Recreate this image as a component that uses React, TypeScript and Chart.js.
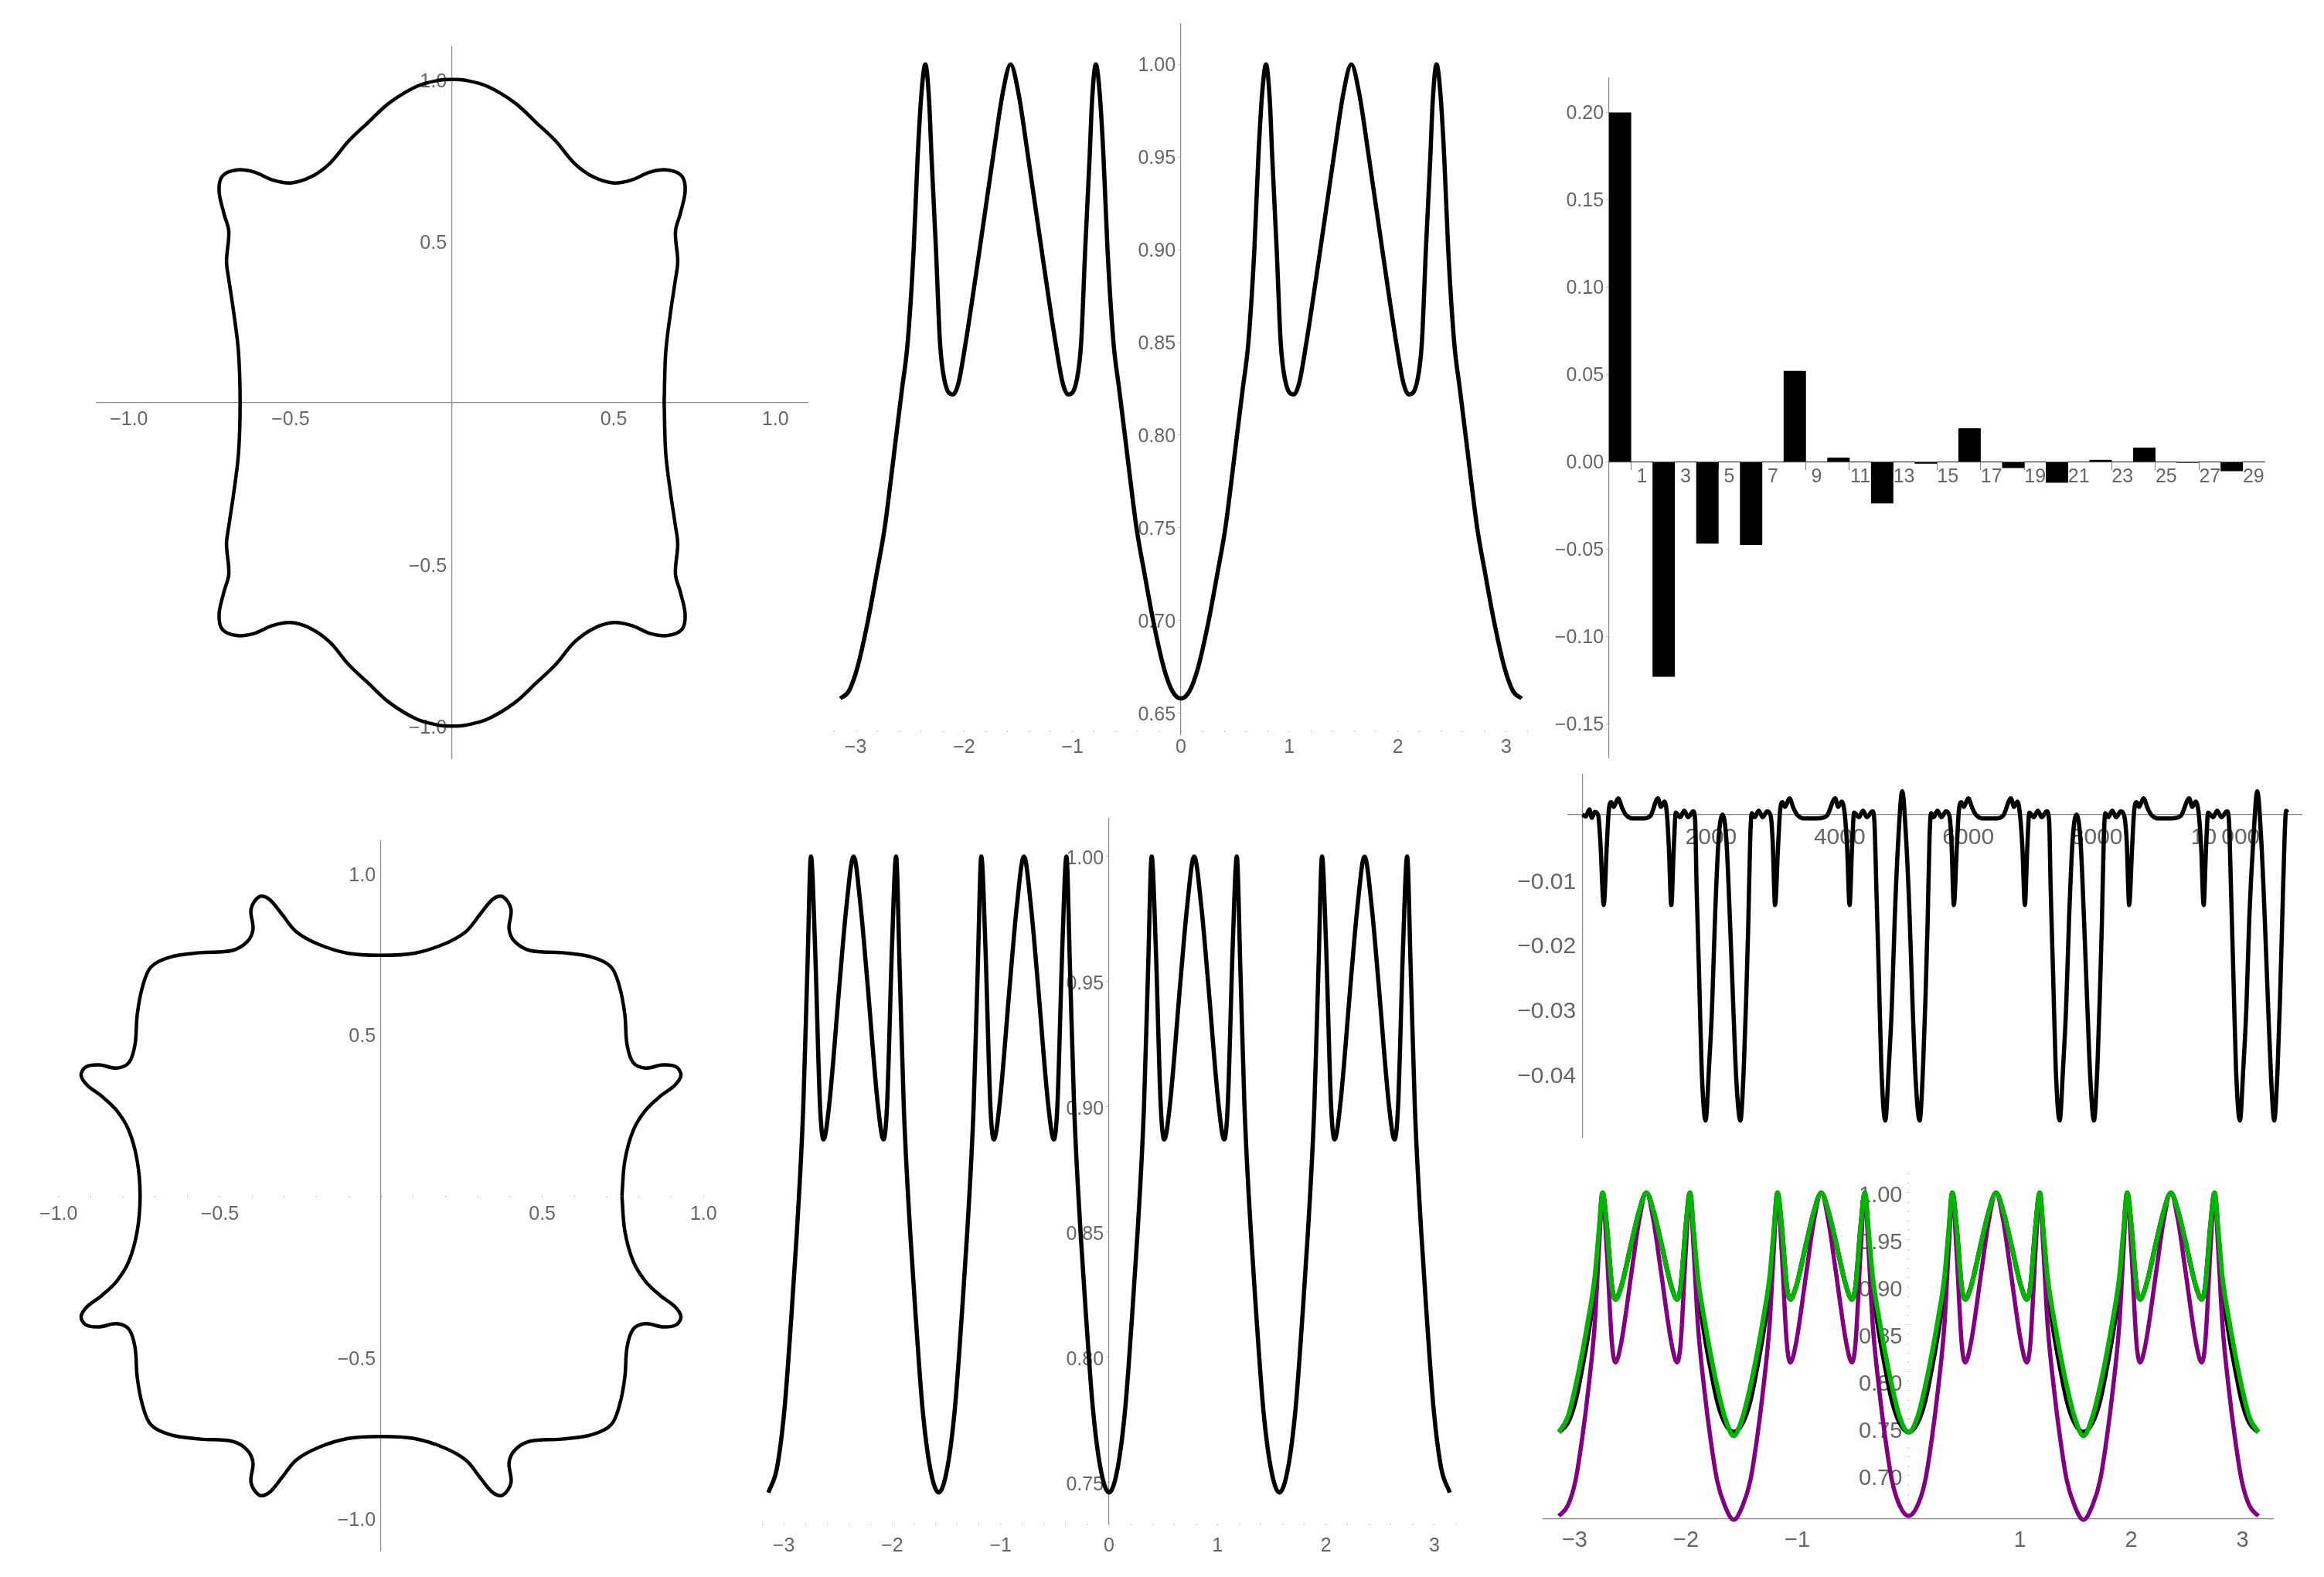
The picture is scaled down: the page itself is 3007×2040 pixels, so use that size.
import React, { useEffect, useRef } from "react";
import { Chart, registerables } from "chart.js";

Chart.register(...registerables);

// top left outline
const topOutlineX = [
  0.656, 0.661, 0.676, 0.69, 0.698, 0.691, 0.706, 0.721, 0.711, 0.668, 0.614, 0.555, 0.5, 0.438, 0.379, 0.32, 0.262, 0.195, 0.111, 0.044, 0,
  -0.044, -0.111, -0.195, -0.262, -0.32, -0.379, -0.438, -0.5, -0.555, -0.614, -0.668, -0.711, -0.721, -0.706, -0.691, -0.698, -0.69, -0.676, -0.661, -0.656,
  -0.661, -0.676, -0.69, -0.698, -0.691, -0.706, -0.721, -0.711, -0.668, -0.614, -0.555, -0.5, -0.438, -0.379, -0.32, -0.262, -0.195, -0.111, -0.044, 0,
  0.044, 0.111, 0.195, 0.262, 0.32, 0.379, 0.438, 0.5, 0.555, 0.614, 0.668, 0.711, 0.721, 0.706, 0.691, 0.698, 0.69, 0.676, 0.661, 0.656,
];
const topOutlineY = [
  0, 0.157, 0.281, 0.375, 0.437, 0.53, 0.585, 0.655, 0.701, 0.72, 0.714, 0.689, 0.68, 0.698, 0.74, 0.81, 0.865, 0.927, 0.978, 0.997, 1,
  0.997, 0.978, 0.927, 0.865, 0.81, 0.74, 0.698, 0.68, 0.689, 0.714, 0.72, 0.701, 0.655, 0.585, 0.53, 0.437, 0.375, 0.281, 0.157, 0,
  -0.157, -0.281, -0.375, -0.437, -0.53, -0.585, -0.655, -0.701, -0.72, -0.714, -0.689, -0.68, -0.698, -0.74, -0.81, -0.865, -0.927, -0.978, -0.997, -1,
  -0.997, -0.978, -0.927, -0.865, -0.81, -0.74, -0.698, -0.68, -0.689, -0.714, -0.72, -0.701, -0.655, -0.585, -0.53, -0.437, -0.375, -0.281, -0.157, 0,
];

// top middle curve
const topTheta = [
  -3.142, -3.062, -2.982, -2.886, -2.807, -2.732, -2.677, -2.625, -2.572, -2.52, -2.465, -2.428, -2.392, -2.357, -2.322, -2.3, -2.259, -2.222, -2.182, -2.102, -2.052, -1.985, -1.857, -1.733, -1.642, -1.571,
  -1.5, -1.409, -1.285, -1.157, -1.09, -1.04, -0.96, -0.92, -0.883, -0.842, -0.82, -0.785, -0.75, -0.714, -0.677, -0.622, -0.57, -0.517, -0.465, -0.41, -0.335, -0.256, -0.16, -0.08, 0,
  0.08, 0.16, 0.256, 0.335, 0.41, 0.465, 0.517, 0.57, 0.622, 0.677, 0.714, 0.75, 0.785, 0.82, 0.842, 0.883, 0.92, 0.96, 1.04, 1.09, 1.157, 1.285, 1.409, 1.5, 1.571,
  1.642, 1.733, 1.857, 1.985, 2.052, 2.102, 2.182, 2.222, 2.259, 2.3, 2.322, 2.357, 2.392, 2.428, 2.465, 2.52, 2.572, 2.625, 2.677, 2.732, 2.807, 2.886, 2.982, 3.062, 3.142,
];
const topRadius = [
  0.658, 0.662, 0.675, 0.7, 0.725, 0.75, 0.775, 0.8, 0.825, 0.85, 0.9, 0.95, 0.985, 1, 0.98, 0.95, 0.9, 0.85, 0.83, 0.822, 0.828, 0.85, 0.9, 0.95, 0.985, 1,
  0.985, 0.95, 0.9, 0.85, 0.828, 0.822, 0.83, 0.85, 0.9, 0.95, 0.98, 1, 0.985, 0.95, 0.9, 0.85, 0.825, 0.8, 0.775, 0.75, 0.725, 0.7, 0.675, 0.662, 0.658,
  0.662, 0.675, 0.7, 0.725, 0.75, 0.775, 0.8, 0.825, 0.85, 0.9, 0.95, 0.985, 1, 0.98, 0.95, 0.9, 0.85, 0.83, 0.822, 0.828, 0.85, 0.9, 0.95, 0.985, 1,
  0.985, 0.95, 0.9, 0.85, 0.828, 0.822, 0.83, 0.85, 0.9, 0.95, 0.98, 1, 0.985, 0.95, 0.9, 0.85, 0.825, 0.8, 0.775, 0.75, 0.725, 0.7, 0.675, 0.662, 0.658,
];

// top right bars, the odd slots are empty and only carry the labels
const coeffSlots = ["0", "1", "2", "3", "4", "5", "6", "7", "8", "9", "10", "11", "12", "13", "14", "15", "16", "17", "18", "19", "20", "21", "22", "23", "24", "25", "26", "27", "28", "29"];
const coeffValues = [
  0.2, 0, -0.1228, 0, -0.0466, 0, -0.0474, 0, 0.052, 0, 0.0024, 0, -0.0236, 0, -0.0008, 0, 0.0192, 0, -0.0033, 0, -0.0117, 0, 0.0011, 0, 0.0081, 0, -0.0003, 0, -0.0051, 0,
];

// bottom left outline
const bottomOutlineX = [
  0.747, 0.756, 0.782, 0.82, 0.866, 0.911, 0.93, 0.915, 0.873, 0.82, 0.782, 0.763, 0.756, 0.74, 0.713, 0.652, 0.56, 0.461, 0.415, 0.397, 0.403, 0.377, 0.347, 0.308, 0.263, 0.194, 0.102, 0,
  -0.102, -0.194, -0.263, -0.308, -0.347, -0.377, -0.403, -0.397, -0.415, -0.461, -0.56, -0.652, -0.713, -0.74, -0.756, -0.763, -0.782, -0.82, -0.873, -0.915, -0.93, -0.911, -0.866, -0.82, -0.782, -0.756, -0.747,
  -0.756, -0.782, -0.82, -0.866, -0.911, -0.93, -0.915, -0.873, -0.82, -0.782, -0.763, -0.756, -0.74, -0.713, -0.652, -0.56, -0.461, -0.415, -0.397, -0.403, -0.377, -0.347, -0.308, -0.263, -0.194, -0.102, 0,
  0.102, 0.194, 0.263, 0.308, 0.347, 0.377, 0.403, 0.397, 0.415, 0.461, 0.56, 0.652, 0.713, 0.74, 0.756, 0.763, 0.782, 0.82, 0.873, 0.915, 0.93, 0.911, 0.866, 0.82, 0.782, 0.756, 0.747,
];
const bottomOutlineY = [
  0, 0.109, 0.203, 0.265, 0.309, 0.343, 0.374, 0.4, 0.406, 0.396, 0.413, 0.468, 0.562, 0.647, 0.71, 0.741, 0.754, 0.761, 0.788, 0.827, 0.889, 0.928, 0.92, 0.874, 0.819, 0.78, 0.752, 0.746,
  0.752, 0.78, 0.819, 0.874, 0.92, 0.928, 0.889, 0.827, 0.788, 0.761, 0.754, 0.741, 0.71, 0.647, 0.562, 0.468, 0.413, 0.396, 0.406, 0.4, 0.374, 0.343, 0.309, 0.265, 0.203, 0.109, 0,
  -0.109, -0.203, -0.265, -0.309, -0.343, -0.374, -0.4, -0.406, -0.396, -0.413, -0.468, -0.562, -0.647, -0.71, -0.741, -0.754, -0.761, -0.788, -0.827, -0.889, -0.928, -0.92, -0.874, -0.819, -0.78, -0.752, -0.746,
  -0.752, -0.78, -0.819, -0.874, -0.92, -0.928, -0.889, -0.827, -0.788, -0.761, -0.754, -0.741, -0.71, -0.647, -0.562, -0.468, -0.413, -0.396, -0.406, -0.4, -0.374, -0.343, -0.309, -0.265, -0.203, -0.109, 0,
];

// bottom middle and bottom right curves share the same theta positions
const bottomTheta = [
  -3.142, -3.062, -2.992, -2.932, -2.879, -2.82, -2.782, -2.749, -2.712, -2.665, -2.633, -2.583, -2.484, -2.422, -2.356, -2.291, -2.229, -2.13, -2.08, -2.048, -2.001, -1.964, -1.931, -1.893, -1.834, -1.781, -1.721, -1.651, -1.571,
  -1.491, -1.421, -1.361, -1.308, -1.249, -1.211, -1.178, -1.141, -1.094, -1.062, -1.012, -0.913, -0.851, -0.785, -0.72, -0.658, -0.559, -0.509, -0.477, -0.43, -0.393, -0.36, -0.322, -0.263, -0.21, -0.15, -0.08, 0,
  0.08, 0.15, 0.21, 0.263, 0.322, 0.36, 0.393, 0.43, 0.477, 0.509, 0.559, 0.658, 0.72, 0.785, 0.851, 0.913, 1.012, 1.062, 1.094, 1.141, 1.178, 1.211, 1.249, 1.308, 1.361, 1.421, 1.491, 1.571,
  1.651, 1.721, 1.781, 1.834, 1.893, 1.931, 1.964, 2.001, 2.048, 2.08, 2.13, 2.229, 2.291, 2.356, 2.422, 2.484, 2.583, 2.633, 2.665, 2.712, 2.749, 2.782, 2.82, 2.879, 2.932, 2.992, 3.062, 3.142,
];
const bottomRadius = [
  0.746, 0.756, 0.78, 0.815, 0.85, 0.9, 0.955, 1, 0.965, 0.9, 0.887, 0.9, 0.95, 0.98, 1, 0.98, 0.95, 0.9, 0.887, 0.9, 0.965, 1, 0.955, 0.9, 0.85, 0.815, 0.78, 0.756, 0.746,
  0.756, 0.78, 0.815, 0.85, 0.9, 0.955, 1, 0.965, 0.9, 0.887, 0.9, 0.95, 0.98, 1, 0.98, 0.95, 0.9, 0.887, 0.9, 0.965, 1, 0.955, 0.9, 0.85, 0.815, 0.78, 0.756, 0.746,
  0.756, 0.78, 0.815, 0.85, 0.9, 0.955, 1, 0.965, 0.9, 0.887, 0.9, 0.95, 0.98, 1, 0.98, 0.95, 0.9, 0.887, 0.9, 0.965, 1, 0.955, 0.9, 0.85, 0.815, 0.78, 0.756, 0.746,
  0.756, 0.78, 0.815, 0.85, 0.9, 0.955, 1, 0.965, 0.9, 0.887, 0.9, 0.95, 0.98, 1, 0.98, 0.95, 0.9, 0.887, 0.9, 0.965, 1, 0.955, 0.9, 0.85, 0.815, 0.78, 0.756, 0.746,
];
const greenRadius = [
  0.746, 0.762, 0.795, 0.83, 0.865, 0.91, 0.96, 1, 0.965, 0.9, 0.887, 0.9, 0.95, 0.98, 1, 0.98, 0.95, 0.9, 0.887, 0.9, 0.965, 1, 0.96, 0.91, 0.865, 0.83, 0.795, 0.762, 0.742,
  0.762, 0.795, 0.83, 0.865, 0.91, 0.96, 1, 0.965, 0.9, 0.887, 0.9, 0.95, 0.98, 1, 0.98, 0.95, 0.9, 0.887, 0.9, 0.965, 1, 0.96, 0.91, 0.865, 0.83, 0.795, 0.762, 0.746,
  0.762, 0.795, 0.83, 0.865, 0.91, 0.96, 1, 0.965, 0.9, 0.887, 0.9, 0.95, 0.98, 1, 0.98, 0.95, 0.9, 0.887, 0.9, 0.965, 1, 0.96, 0.91, 0.865, 0.83, 0.795, 0.762, 0.742,
  0.762, 0.795, 0.83, 0.865, 0.91, 0.96, 1, 0.965, 0.9, 0.887, 0.9, 0.95, 0.98, 1, 0.98, 0.95, 0.9, 0.887, 0.9, 0.965, 1, 0.96, 0.91, 0.865, 0.83, 0.795, 0.762, 0.746,
];
const purpleRadius = [
  0.657, 0.668, 0.695, 0.74, 0.79, 0.86, 0.94, 1, 0.94, 0.84, 0.82, 0.84, 0.92, 0.97, 1, 0.97, 0.92, 0.84, 0.82, 0.84, 0.94, 1, 0.94, 0.86, 0.79, 0.74, 0.695, 0.668, 0.653,
  0.668, 0.695, 0.74, 0.79, 0.86, 0.94, 1, 0.94, 0.84, 0.82, 0.84, 0.92, 0.97, 1, 0.97, 0.92, 0.84, 0.82, 0.84, 0.94, 1, 0.94, 0.86, 0.79, 0.74, 0.695, 0.668, 0.657,
  0.668, 0.695, 0.74, 0.79, 0.86, 0.94, 1, 0.94, 0.84, 0.82, 0.84, 0.92, 0.97, 1, 0.97, 0.92, 0.84, 0.82, 0.84, 0.94, 1, 0.94, 0.86, 0.79, 0.74, 0.695, 0.668, 0.653,
  0.668, 0.695, 0.74, 0.79, 0.86, 0.94, 1, 0.94, 0.84, 0.82, 0.84, 0.92, 0.97, 1, 0.97, 0.92, 0.84, 0.82, 0.84, 0.94, 1, 0.94, 0.86, 0.79, 0.74, 0.695, 0.668, 0.657,
];

// middle right difference curve
const diffX = [
  0, 54, 108, 147, 193, 247, 278, 332, 378, 409, 448, 487, 556, 618, 672, 788, 942, 1058, 1174, 1220, 1274, 1313, 1344, 1382, 1421, 1452, 1521, 1583, 1645, 1722, 1753, 1776, 1815, 1853, 1915, 1969, 2015, 2062, 2116, 2178, 2239, 2293, 2347, 2393, 2456, 2510, 2548, 2579, 2610, 2633,
  2679, 2741, 2803, 2873, 2927, 2958, 2996, 3042, 3073, 3112, 3150, 3220, 3282, 3336, 3452, 3645, 3800, 3931, 3977, 4031, 4078, 4116, 4154, 4193, 4224, 4301, 4363, 4425, 4510, 4540, 4571, 4610, 4648, 4710, 4764, 4810, 4857, 4911, 4973, 5035, 5089, 5136, 5182, 5243, 5297, 5336, 5367, 5398, 5421,
  5460, 5521, 5583, 5653, 5707, 5738, 5776, 5822, 5853, 5892, 5930, 6000, 6062, 6116, 6232, 6425, 6541, 6664, 6710, 6764, 6802, 6841, 6880, 6918, 6949, 7019, 7081, 7143, 7220, 7258, 7281, 7320, 7359, 7421, 7475, 7521, 7568, 7622, 7683, 7745, 7799, 7853, 7899, 7954, 8008, 8046, 8077, 8108, 8131,
  8178, 8239, 8301, 8371, 8425, 8463, 8502, 8548, 8579, 8618, 8656, 8726, 8788, 8842, 8958, 9151, 9305, 9436, 9482, 9536, 9583, 9621, 9660, 9698, 9729, 9807, 9869, 9938, 10023, 10054, 10085, 10123, 10162, 10224, 10278, 10324, 10370, 10432, 10494, 10556, 10610, 10664, 10710, 10757, 10811, 10849, 10880, 10919, 10942, 10965,
];
const diffY = [
  0, -0.0003, 0.0008, -0.0005, 0.0004, -0.0002, -0.004, -0.014, -0.005, 0.0005, 0.0019, 0.0012, 0.0025, 0.001, 0, -0.0006, -0.0006, -0.0002, 0.0025, 0.0012, 0.002, 0.0002, -0.005, -0.014, -0.005, 0.0003, -0.0004, 0.0006, -0.0004, 0.0005, -0.001, -0.0114, -0.025, -0.039, -0.0473, -0.039, -0.03, -0.016, -0.004, 0, -0.004, -0.016, -0.03, -0.041, -0.0473, -0.039, -0.028, -0.017, -0.0035, 0.0002,
  -0.0004, 0.0006, -0.0004, 0.0005, -0.0002, -0.004, -0.014, -0.005, 0.0005, 0.0019, 0.0012, 0.0025, 0.001, 0, -0.0006, -0.0006, -0.0002, 0.0025, 0.0012, 0.002, 0.0002, -0.005, -0.014, -0.005, 0.0003, -0.0004, 0.0006, -0.0004, 0.0005, -0.001, -0.0114, -0.025, -0.039, -0.0473, -0.039, -0.03, -0.016, -0.004, 0.0036, -0.004, -0.016, -0.03, -0.041, -0.0473, -0.039, -0.028, -0.017, -0.0035, 0.0002,
  -0.0004, 0.0006, -0.0004, 0.0005, -0.0002, -0.004, -0.014, -0.005, 0.0005, 0.0019, 0.0012, 0.0025, 0.001, 0, -0.0006, -0.0006, -0.0002, 0.0025, 0.0012, 0.002, 0.0002, -0.005, -0.014, -0.005, 0.0003, -0.0004, 0.0006, -0.0004, 0.0005, -0.001, -0.0114, -0.025, -0.039, -0.0473, -0.039, -0.03, -0.016, -0.004, 0, -0.004, -0.016, -0.03, -0.041, -0.0473, -0.039, -0.028, -0.017, -0.0035, 0.0002,
  -0.0004, 0.0006, -0.0004, 0.0005, -0.0002, -0.004, -0.014, -0.005, 0.0005, 0.0019, 0.0012, 0.0025, 0.001, 0, -0.0006, -0.0006, -0.0002, 0.0025, 0.0012, 0.002, 0.0002, -0.005, -0.014, -0.005, 0.0003, -0.0004, 0.0006, -0.0004, 0.0005, -0.001, -0.0114, -0.025, -0.039, -0.0473, -0.039, -0.03, -0.016, -0.004, 0.0036, -0.004, -0.016, -0.03, -0.041, -0.0473, -0.039, -0.028, -0.017, -0.0035, 0.0006, 0.0003,
];

// tick positions and labels
const unitLabels = [-1, -0.5, 0.5, 1];
const unitSpecks = [-1, -0.9, -0.8, -0.7, -0.6, -0.5, -0.4, -0.3, -0.2, -0.1, 0, 0.1, 0.2, 0.3, 0.4, 0.5, 0.6, 0.7, 0.8, 0.9, 1];
const thetaLabels = [-3, -2, -1, 0, 1, 2, 3];
const thetaLabelsNoZero = [-3, -2, -1, 1, 2, 3];
const thetaSpecks = [-3.2, -3, -2.8, -2.6, -2.4, -2.2, -2, -1.8, -1.6, -1.4, -1.2, -1, -0.8, -0.6, -0.4, -0.2, 0, 0.2, 0.4, 0.6, 0.8, 1, 1.2, 1.4, 1.6, 1.8, 2, 2.2, 2.4, 2.6, 2.8, 3, 3.2];
const topRadiusTicks = [0.65, 0.7, 0.75, 0.8, 0.85, 0.9, 0.95, 1];
const bottomRadiusTicks = [0.75, 0.8, 0.85, 0.9, 0.95, 1];
const coeffTicks = [-0.15, -0.1, -0.05, 0, 0.05, 0.1, 0.15, 0.2];
const diffXTicks = [2000, 4000, 6000, 8000, 10000];
const diffYTicks = [-0.04, -0.03, -0.02, -0.01];
const mixLabels = [0.7, 0.75, 0.8, 0.85, 0.9, 0.95, 1];
const mixSpecks = [0.66, 0.67, 0.68, 0.69, 0.7, 0.71, 0.72, 0.73, 0.74, 0.75, 0.76, 0.77, 0.78, 0.79, 0.8, 0.81, 0.82, 0.83, 0.84, 0.85, 0.86, 0.87, 0.88, 0.89, 0.9, 0.91, 0.92, 0.93, 0.94, 0.95, 0.96, 0.97, 0.98, 0.99, 1, 1.01, 1.02];

const AXIS = "#8a8a8a";
const SPECK = "#c4c4c4";
const TEXT = "#666666";
const FONT = "'Liberation Sans', Arial, sans-serif";
const MARGIN = 110;

const fmt = (v: number, digits: number) => v.toFixed(digits).replace("-", "\u2212");
const groupThousands = (v: number) => (v >= 10000 ? "10\u2009000" : String(v));
const points = (xs: number[], ys: number[]) => xs.map((x, i) => ({ x, y: ys[i] }));

type AxisSpec = {
  min: number;
  max: number;
  at: any;
  ticks: number[];
  labels: number[];
  text: (v: number) => string;
  line: boolean;
  tick: number;
  pad?: number;
  shift?: number;
  size: number;
};

function linearAxis(a: AxisSpec, isY: boolean) {
  return {
    type: "linear",
    min: a.min,
    max: a.max,
    position: a.at,
    afterBuildTicks: (scale: any) => {
      scale.ticks = a.ticks.map((value) => ({ value }));
    },
    border: { display: a.line, color: AXIS, width: 1.2 },
    grid: { drawOnChartArea: false, drawTicks: a.tick > 0, tickLength: a.tick, tickColor: SPECK, tickWidth: 1 },
    ticks: {
      autoSkip: false,
      maxRotation: 0,
      minRotation: 0,
      padding: a.pad ?? 0,
      labelOffset: a.shift ?? 0,
      color: TEXT,
      font: { family: FONT, size: a.size },
      // chart.js ignores padding on value-positioned y axes, the trailing space keeps the gap
      callback: (v: number) => (a.labels.includes(v) ? a.text(v) + (isY ? "\u00A0" : "") : ""),
    },
  };
}

type CurveSpec = { xs: number[]; ys: number[]; color: string; width: number; closed?: boolean };
type PanelSpec = {
  box: [number, number, number, number];
  curves?: CurveSpec[];
  x?: AxisSpec;
  y?: AxisSpec;
};

const panels: PanelSpec[] = [
  {
    box: [125, 61, 1045, 981],
    curves: [{ xs: topOutlineX, ys: topOutlineY, color: "#000", width: 4.5, closed: true }],
    x: { min: -1.1, max: 1.1, at: { y: 0 }, ticks: unitLabels, labels: unitLabels, text: (v) => fmt(v, 1), line: true, tick: 0, pad: 7, size: 25 },
    y: { min: -1.1, max: 1.1, at: { x: 0 }, ticks: unitLabels, labels: unitLabels, text: (v) => fmt(v, 1), line: true, tick: 0, shift: 3, size: 25 },
  },
  {
    box: [1065, 31, 1991, 950],
    curves: [{ xs: topTheta, ys: topRadius, color: "#000", width: 5.5 }],
    x: { min: -3.3, max: 3.3, at: { y: 0.6407 }, ticks: thetaSpecks, labels: thetaLabels, text: (v) => fmt(v, 0), line: false, tick: 2, pad: 5, size: 25 },
    y: { min: 0.6386, max: 1.0218, at: { x: 0 }, ticks: topRadiusTicks, labels: topRadiusTicks, text: (v) => fmt(v, 2), line: true, tick: 3, shift: 2, size: 25 },
  },
  { box: [2082, 101, 2930, 980] },
  {
    box: [34, 1088, 952, 2006],
    curves: [{ xs: bottomOutlineX, ys: bottomOutlineY, color: "#000", width: 4.5, closed: true }],
    x: { min: -1.1, max: 1.1, at: { y: 0 }, ticks: unitSpecks, labels: unitLabels, text: (v) => fmt(v, 1), line: false, tick: 2, pad: 7, size: 25 },
    y: { min: -1.1, max: 1.1, at: { x: 0 }, ticks: unitLabels, labels: unitLabels, text: (v) => fmt(v, 1), line: true, tick: 0, shift: 3, size: 25 },
  },
  {
    box: [972, 1059, 1898, 1971],
    curves: [{ xs: bottomTheta, ys: bottomRadius, color: "#000", width: 5.5 }],
    x: { min: -3.3, max: 3.3, at: { y: 0.7336 }, ticks: thetaSpecks, labels: thetaLabels, text: (v) => fmt(v, 0), line: false, tick: 2, pad: 12, size: 25 },
    y: { min: 0.7336, max: 1.0151, at: { x: 0 }, ticks: bottomRadiusTicks, labels: bottomRadiusTicks, text: (v) => fmt(v, 2), line: true, tick: 3, shift: 3, size: 25 },
  },
  {
    box: [2029, 1002, 2978, 1471],
    curves: [{ xs: diffX, ys: diffY, color: "#000", width: 5.5 }],
    x: { min: -222, max: 11183, at: { y: 0 }, ticks: diffXTicks, labels: diffXTicks, text: groupThousands, line: true, tick: 0, pad: 12, size: 30 },
    y: { min: -0.04987, max: 0.00618, at: { x: 0 }, ticks: diffYTicks, labels: diffYTicks, text: (v) => fmt(v, 2), line: true, tick: 0, shift: 4, size: 30 },
  },
  {
    box: [1997, 1517, 2941, 1965],
    // chart.js paints the first dataset last, so green goes first to stay on top
    curves: [
      { xs: bottomTheta, ys: greenRadius, color: "#00b400", width: 6 },
      { xs: bottomTheta, ys: purpleRadius, color: "#800080", width: 5.5 },
      { xs: bottomTheta, ys: bottomRadius, color: "#000", width: 6 },
    ],
    x: { min: -3.281, max: 3.274, at: { y: 0.6538 }, ticks: thetaLabelsNoZero, labels: thetaLabelsNoZero, text: (v) => fmt(v, 0), line: true, tick: 0, pad: 11, size: 29 },
    y: { min: 0.6538, max: 1.0213, at: { x: 0 }, ticks: mixSpecks, labels: mixLabels, text: (v) => fmt(v, 2), line: false, tick: 2, shift: 4, size: 29 },
  },
];

function paddingFor(box: PanelSpec["box"]) {
  const [l, t, r, b] = box;
  return {
    left: Math.min(l, MARGIN),
    top: Math.min(t, MARGIN),
    right: Math.min(3007 - r, MARGIN),
    bottom: Math.min(2040 - b, MARGIN),
  };
}

function barConfig(padding: any) {
  return {
    type: "bar",
    data: {
      labels: coeffSlots,
      datasets: [{ data: coeffValues, backgroundColor: "#000", barPercentage: 1, categoryPercentage: 1, borderWidth: 0 }],
    },
    options: {
      animation: false,
      responsive: false,
      devicePixelRatio: 1,
      events: [],
      layout: { autoPadding: false, padding },
      plugins: { legend: { display: false }, tooltip: { enabled: false } },
      scales: {
        x: {
          type: "category",
          offset: true,
          position: { y: 0 },
          border: { display: true, color: AXIS, width: 1.2 },
          grid: {
            offset: true,
            drawOnChartArea: false,
            tickLength: 10,
            tickWidth: 1.2,
            tickColor: (ctx: any) => (ctx.index % 2 === 1 ? AXIS : "rgba(0,0,0,0)"),
          },
          ticks: {
            autoSkip: false,
            maxRotation: 0,
            minRotation: 0,
            padding: -6,
            color: TEXT,
            font: { family: FONT, size: 25 },
            callback: (_v: any, i: number) => (i % 2 === 1 ? coeffSlots[i] : ""),
          },
        },
        y: linearAxis(
          { min: -0.1692, max: 0.2198, at: { x: -0.5 }, ticks: coeffTicks, labels: coeffTicks, text: (v) => fmt(v, 2), line: true, tick: 3, shift: 1, size: 25 },
          true,
        ),
      },
    },
  };
}

function lineConfig(p: PanelSpec, padding: any) {
  return {
    type: "scatter",
    data: {
      datasets: p.curves!.map((c) => ({
        data: points(c.xs, c.ys),
        showLine: true,
        borderColor: c.color,
        borderWidth: c.width,
        pointRadius: 0,
        clip: false,
        borderJoinStyle: "round",
        tension: c.closed ? 0.35 : 0,
        cubicInterpolationMode: c.closed ? "default" : "monotone",
      })),
    },
    options: {
      animation: false,
      responsive: false,
      devicePixelRatio: 1,
      events: [],
      layout: { autoPadding: false, padding },
      plugins: { legend: { display: false }, tooltip: { enabled: false } },
      scales: { x: linearAxis(p.x!, false), y: linearAxis(p.y!, true) },
    },
  };
}

function Panel({ spec }: { spec: PanelSpec }) {
  const canvasRef = useRef<HTMLCanvasElement | null>(null);
  const padding = paddingFor(spec.box);
  const [l, t, r, b] = spec.box;
  const width = r - l + padding.left + padding.right;
  const height = b - t + padding.top + padding.bottom;

  useEffect(() => {
    const canvas = canvasRef.current;
    if (!canvas) return;
    const config = spec.curves ? lineConfig(spec, padding) : barConfig(padding);
    const chart = new Chart(canvas, config as any);
    return () => chart.destroy();
  }, []);

  return (
    <canvas
      ref={canvasRef}
      width={width}
      height={height}
      style={{ position: "absolute", left: l - padding.left, top: t - padding.top, width, height }}
    />
  );
}

export default function App() {
  return (
    <div style={{ position: "absolute", left: 0, top: 0, width: 3007, height: 2040, background: "#fff", overflow: "hidden" }}>
      {panels.map((p, i) => (
        <Panel key={i} spec={p} />
      ))}
    </div>
  );
}
